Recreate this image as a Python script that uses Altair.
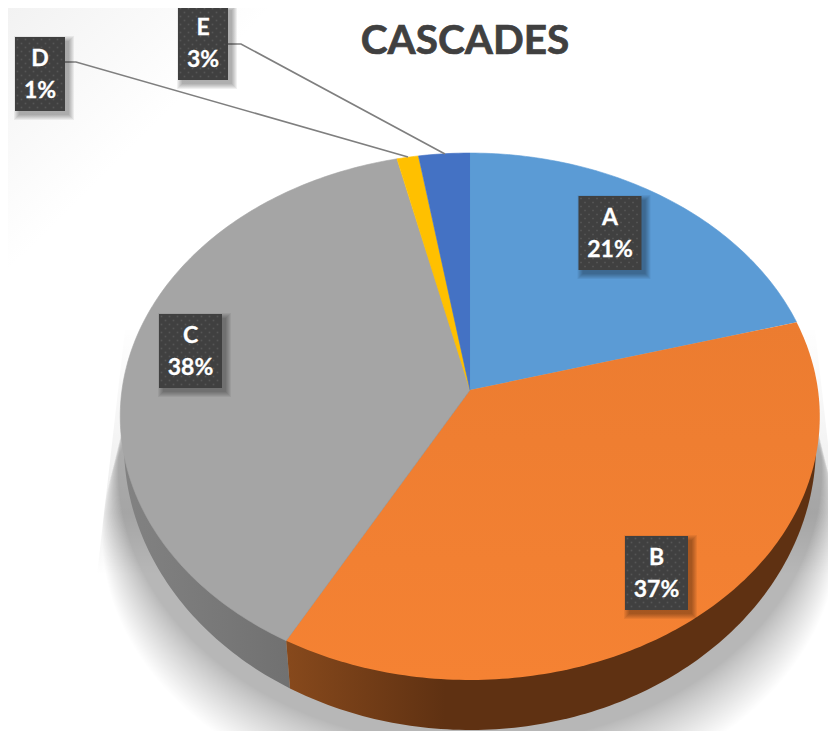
import altair as alt
import numpy as np
import pandas as pd

# ---- chart values
names = ["A", "B", "C", "D", "E"]
shares = [20.7, 37.3, 38.3, 1.1, 2.6]
colors = ["#5b9bd5", None, "#a5a5a5", "#ffc000", "#4472c4"]
percent_text = [f"{round(s)}%" for s in shares]
title_text = "CASCADES"

# ---- label boxes (centre x, centre y, width)
box_cx = [610, 656.5, 190.5, 40, 203]
box_cy = [233, 573, 351, 74, 43]
box_w = [63, 63, 63, 50, 50]
box_h = 74

# ---- leader lines for the two narrow slices
leader_names = ["D", "E"]
leader_x = [[65, 76, 408], [228, 241, 445]]
leader_y = [[62, 62, 157], [44, 44, 154]]

# ---- page geometry: the chart sits 8px inside the page
M = 8
RIGHT, BOTTOM = 828, 731
sx = alt.Scale(domain=[M, RIGHT], nice=False, zero=False)
sy = alt.Scale(domain=[BOTTOM, M], nice=False, zero=False)
X = alt.X("x:Q", scale=sx, axis=None)
Y = alt.Y("y:Q", scale=sy, axis=None)

# perspective view of the pie top
CX, CY, RX, RY, K = 470.0, 390.0, 348.0, 260.8, 0.1006
# lower rim of the pie wall
LOW_A, LOW_B, LOW_CY = 346.0, 285.0, 445.0


def top_xy(theta):
    u, v = np.sin(theta), np.cos(theta)
    d = 1 + K * v
    return CX + RX * u / d, CY - RY * v / d


def poly(xs, ys):
    return pd.DataFrame({"x": xs, "y": ys, "i": np.arange(len(xs))})


def shape(df, fill, **kw):
    return alt.Chart(df).mark_line(fill=fill, interpolate="linear", **kw).encode(
        x=X, y=Y, order=alt.Order("i:Q")
    )


def grad(stops, x2=1, y2=0):
    return alt.LinearGradient(
        gradient="linear",
        stops=[alt.GradientStop(color=c, offset=o) for o, c in stops],
        x1=0, y1=0, x2=x2, y2=y2,
    )


layers = []

# faint grey glow in the top-left corner
layers.append(
    alt.Chart(pd.DataFrame({"x": [M], "x2": [300], "y": [M], "y2": [300]}))
    .mark_rect(fill=grad([(0, "#f2f2f2"), (1, "#ffffff")], 0.45, 0.45))
    .encode(x=X, x2="x2:Q", y=Y, y2="y2:Q")
)

# faint slanted wedges of light beside the pie
wedge = grad([(0, "rgba(0,0,0,0.005)"), (0.75, "rgba(0,0,0,0.07)"), (1, "rgba(0,0,0,0)")], 0, 1)
layers.append(shape(poly([125, 97, 170, 200], [330, 575, 575, 330]), wedge, strokeWidth=0))
layers.append(shape(poly([815, 843, 770, 740], [330, 575, 575, 330]), wedge, strokeWidth=0))

# soft cast shadow: stacked translucent ellipses, denser near the pie
t = np.linspace(0, 2 * np.pi, 241)
rows = []
for k, f in enumerate(np.linspace(0, 1, 36) ** 1.15):
    a = 352 + 16 * f
    b = 274 - 2 * f
    c = 472 + 64 * f
    rows.append(pd.DataFrame({"x": 470 + a * np.cos(t), "y": c + b * np.sin(t),
                              "i": np.arange(len(t)), "k": k}))
layers.append(
    alt.Chart(pd.concat(rows))
    .mark_line(fill="#000000", fillOpacity=0.0062, strokeWidth=0)
    .encode(x=X, y=Y, detail="k:N", order=alt.Order("i:Q"))
)

# pie wall
edges = np.cumsum([0] + shares) / 100 * 2 * np.pi
bx, by = top_xy(edges[2])
split = np.arccos((290 - 470) / LOW_A)
tg = np.linspace(np.pi, np.pi + (np.pi - split), 60)
gx = list(CX + LOW_A * np.cos(tg)) + [bx, CX]
gy = list(LOW_CY - LOW_B * np.sin(tg)) + [by, CY]
layers.append(shape(poly(gx, gy),
                    grad([(0, "#828282"), (1, "#5e5e5e")]), strokeWidth=0))
to = np.linspace(np.pi + (np.pi - split), 2 * np.pi, 120)
ox = [bx] + list(CX + LOW_A * np.cos(to)) + [CX]
oy = [by] + list(LOW_CY - LOW_B * np.sin(to)) + [CY]
layers.append(shape(poly(ox, oy),
                    grad([(0, "#87491c"), (0.3, "#5f3112"), (1, "#5f3112")]),
                    strokeWidth=0))

# pie top: one wedge per value
orange = grad([(0, "#ec7c30"), (1, "#f58233")], 0, 1)
for i, n in enumerate(names):
    th = np.linspace(edges[i], edges[i + 1], max(6, int(shares[i] * 4)))
    xs, ys = top_xy(th)
    fill = colors[i] if colors[i] else orange
    kw = {"stroke": colors[i], "strokeWidth": 0.6} if colors[i] else {"strokeWidth": 0}
    layers.append(shape(poly([CX] + list(xs), [CY] + list(ys)), fill, **kw))

# leader lines
lead = pd.concat(
    pd.DataFrame({"x": lx, "y": ly, "i": range(len(lx)), "name": n})
    for n, lx, ly in zip(leader_names, leader_x, leader_y)
)
layers.append(
    alt.Chart(lead).mark_line(color="#7f7f7f", strokeWidth=1.6)
    .encode(x=X, y=Y, detail="name:N", order=alt.Order("i:Q"))
)

# label boxes
boxes = pd.DataFrame({"name": names, "cx": box_cx, "cy": box_cy, "w": box_w})
boxes["x"] = boxes.cx - boxes.w / 2
boxes["x2"] = boxes.cx + boxes.w / 2
boxes["y"] = boxes.cy - box_h / 2
boxes["y2"] = boxes.cy + box_h / 2

for grow in [5, 4, 3, 2, 1, 0]:
    s = boxes.copy()
    s["x"] += 4 - grow
    s["x2"] += 4 + grow
    s["y"] += 4 - grow
    s["y2"] += 4 + grow
    layers.append(
        alt.Chart(s).mark_rect(fill="#000000", opacity=0.06)
        .encode(x=X, x2="x2:Q", y=Y, y2="y2:Q")
    )
layers.append(
    alt.Chart(boxes).mark_rect(fill="#404040")
    .encode(x=X, x2="x2:Q", y=Y, y2="y2:Q")
)

# dotted texture of the boxes
dots = []
for _, b in boxes.iterrows():
    for r, yy in enumerate(np.arange(b.y + 2.5, b.y2 - 1, 4)):
        for xx in np.arange(b.x + 2.5 + (4 if r % 2 else 0), b.x2 - 1, 8):
            dots.append({"x": xx, "y": yy})
layers.append(
    alt.Chart(pd.DataFrame(dots))
    .mark_square(size=3, color="#565656", opacity=1, strokeWidth=0)
    .encode(x=X, y=Y)
)

# label text
rows = boxes.assign(line1=names, line2=percent_text)
rows["y1"] = rows.cy - 15
rows["y3"] = rows.cy + 17
for col, ycol in [("line1", "y1"), ("line2", "y3")]:
    layers.append(
        alt.Chart(rows)
        .mark_text(font="Lato", fontWeight="bold", fontSize=23, color="#ffffff",
                   stroke="#ffffff", strokeWidth=0.3,
                   align="center", baseline="middle")
        .encode(x=alt.X("cx:Q", scale=sx, axis=None),
                y=alt.Y(f"{ycol}:Q", scale=sy, axis=None),
                text=f"{col}:N")
    )

# chart title
layers.append(
    alt.Chart(pd.DataFrame({"x": [465], "y": [54], "t": [title_text]}))
    .mark_text(font="Lato", fontWeight="bold", fontSize=40.5, color="#404040",
               stroke="#404040", strokeWidth=0.7,
               align="center", baseline="alphabetic")
    .encode(x=X, y=Y, text="t:N")
)

chart = (
    alt.layer(*layers)
    .properties(
        width=RIGHT - M,
        height=BOTTOM - M,
        padding=0,
        autosize=alt.AutoSizeParams(type="none"),
        background="#ffffff",
    )
    .configure_view(stroke=None)
)
chart.save("out.html", embed_options={"renderer": "svg", "actions": False})
